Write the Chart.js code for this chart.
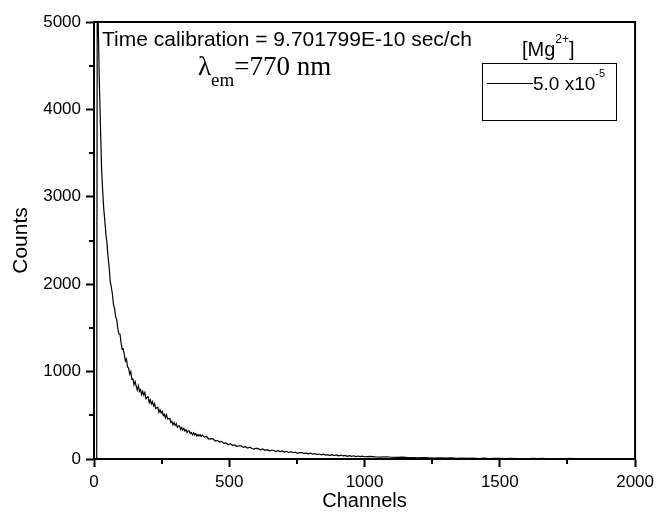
<!DOCTYPE html>
<html>
<head>
<meta charset="utf-8">
<script src="https://cdn.jsdelivr.net/npm/chart.js@4.4.0/dist/chart.umd.min.js"></script>
<style>
  html, body { margin: 0; padding: 0; background: #fff; }
  canvas { display: block; }
</style>
</head>
<body>
<canvas id="decayChart" width="659" height="516"></canvas>
<script>
// subida del pulso, canal por canal
var riseChannels = [0, 4, 8, 10, 12, 14];
var riseCounts = [2, 1, 3, 20, 5500, 5250];

// parte rapida del decaimiento: un valor cada 4 canales desde el canal 16
var earlyStart = 16, earlyStep = 4;
var earlyCounts = [
    4910, 4280, 3795, 3320, 3075, 2865, 2725, 2570, 2470, 2310,
    2195, 2030, 1965, 1890, 1765, 1720, 1625, 1595, 1495, 1430,
    1430, 1330, 1255, 1260, 1195, 1120, 1145, 1055, 1040, 970,
    1000, 910, 915, 850, 885, 835, 788, 838, 773, 794,
    736, 775, 730, 762, 689, 705, 713, 645, 677, 629,
    656, 607, 634, 576, 588, 591, 535, 563, 526, 544,
    498, 512, 471, 505, 459, 461, 465, 417, 430, 390,
    417, 384, 406, 363, 376, 379, 337, 360, 333, 352,
    319, 335, 304, 321, 321, 292, 303, 278, 300, 276,
    290, 265, 280, 263, 280, 259
];

// cola media: un valor cada 8 canales desde 400
var midStart = 400, midStep = 8;
var midCounts = [
    273, 250, 257, 229, 234, 231, 206, 212, 194, 202,
    178, 184, 163, 174, 157, 162, 143, 151, 151, 133,
    141, 124, 135, 120, 113, 123, 116, 104, 114, 99,
    107, 94, 100, 100, 86, 95, 84, 92, 79, 86,
    75, 84, 72, 79, 66, 74, 74, 62, 69, 59,
    66, 55, 62, 50, 57, 48, 55, 44, 50, 40,
    49, 39, 46, 37, 44, 35, 41, 31, 39, 31,
    37, 28, 34, 27, 33
];

// cola larga: un valor cada 20 canales desde 1000
var tailStart = 1000, tailStep = 20;
var tailCounts = [
    26, 31, 24, 21, 26, 20, 18, 22, 15, 17,
    12, 16, 14, 10, 13, 9, 12, 8, 11, 7,
    9, 6, 9, 5, 8, 7, 4, 8, 5, 6,
    3, 7, 4, 6, 2, 5, 4, 2, 6, 3,
    4, 2, 5, 3, 1, 4, 3, 1, 4, 2,
    3
];

var xMinorTicks = [250, 750, 1250, 1750];
var yMinorTicks = [500, 1500, 2500, 3500, 4500];

var sans = "'Liberation Sans', Arial, sans-serif";
var serif = "'Liberation Serif', 'Times New Roman', serif";

var puntos = [];
riseChannels.forEach(function (c, i) { puntos.push({x: c, y: riseCounts[i]}); });
earlyCounts.forEach(function (v, i) { puntos.push({x: earlyStart + i * earlyStep, y: v}); });
midCounts.forEach(function (v, i) { puntos.push({x: midStart + i * midStep, y: v}); });
tailCounts.forEach(function (v, i) { puntos.push({x: tailStart + i * tailStep, y: v}); });

// escribe trozos de texto seguidos (normal / superindice / subindice)
function textoPartes(ctx, x, partes) {
    partes.forEach(function (p) {
        ctx.font = p.font;
        ctx.fillText(p.t, x, p.y);
        x += ctx.measureText(p.t).width;
    });
    return x;
}

var decoraciones = {
    id: 'decoraciones',
    afterDraw: function (chart) {
        var ctx = chart.ctx;
        var area = chart.chartArea;
        var xs = chart.scales.x;
        var ys = chart.scales.y;

        ctx.save();
        ctx.strokeStyle = '#000';
        ctx.fillStyle = '#000';

        // marco superior y derecho
        ctx.lineWidth = 2;
        ctx.beginPath();
        ctx.moveTo(area.left - 1, area.top);
        ctx.lineTo(area.right, area.top);
        ctx.lineTo(area.right, area.bottom + 1);
        ctx.stroke();

        // marcas menores
        ctx.beginPath();
        xMinorTicks.forEach(function (v) {
            var px = Math.round(xs.getPixelForValue(v));
            ctx.moveTo(px, area.bottom);
            ctx.lineTo(px, area.bottom + 5);
        });
        yMinorTicks.forEach(function (v) {
            var py = Math.round(ys.getPixelForValue(v));
            ctx.moveTo(area.left, py);
            ctx.lineTo(area.left - 5, py);
        });
        ctx.stroke();

        // textos
        ctx.textBaseline = 'alphabetic';
        ctx.textAlign = 'left';
        ctx.font = '21px ' + sans;
        ctx.fillText('Time calibration = 9.701799E-10 sec/ch', 102, 46);

        textoPartes(ctx, 198, [
            {t: '\u03bb', font: '27px ' + serif, y: 75},
            {t: 'em', font: '19px ' + serif, y: 86},
            {t: '=770 nm', font: '27px ' + serif, y: 75}
        ]);

        // leyenda
        textoPartes(ctx, 522, [
            {t: '[Mg', font: '20px ' + sans, y: 56},
            {t: '2+', font: '12px ' + sans, y: 43},
            {t: ']', font: '20px ' + sans, y: 56}
        ]);
        ctx.lineWidth = 1;
        ctx.strokeRect(482.5, 63.5, 134, 57);
        ctx.beginPath();
        ctx.moveTo(487, 83.5);
        ctx.lineTo(533, 83.5);
        ctx.stroke();
        textoPartes(ctx, 533, [
            {t: '5.0 x10', font: '19px ' + sans, y: 90},
            {t: '-5', font: '11px ' + sans, y: 77}
        ]);

        ctx.restore();
    }
};

function etiquetaSimple(value) {
    return String(value);
}

var ctx = document.getElementById('decayChart');
new Chart(ctx, {
    type: 'line',
    data: {
        datasets: [{
            label: '5.0 x10-5',
            data: puntos,
            borderColor: '#000',
            borderWidth: 1.2,
            pointRadius: 0,
            fill: false,
            tension: 0
        }]
    },
    options: {
        responsive: false,
        animation: false,
        layout: {
            padding: {left: 0, top: 22, right: 22, bottom: 0}
        },
        plugins: {
            legend: {display: false},
            tooltip: {enabled: false}
        },
        scales: {
            x: {
                type: 'linear',
                min: 0,
                max: 2000,
                afterFit: function (scale) { scale.height = 57; },
                ticks: {
                    stepSize: 500,
                    color: '#000',
                    padding: 5,
                    maxRotation: 0,
                    callback: etiquetaSimple,
                    font: {family: sans, size: 17}
                },
                grid: {
                    drawOnChartArea: false,
                    drawTicks: true,
                    tickLength: 8,
                    tickWidth: 2,
                    tickColor: '#000'
                },
                border: {color: '#000', width: 2},
                title: {
                    display: true,
                    text: 'Channels',
                    color: '#000',
                    padding: {top: 0, bottom: 3},
                    font: {family: sans, size: 20}
                }
            },
            y: {
                min: 0,
                max: 5000,
                afterFit: function (scale) { scale.width = 94; },
                ticks: {
                    stepSize: 1000,
                    color: '#000',
                    padding: 5,
                    callback: etiquetaSimple,
                    font: {family: sans, size: 17}
                },
                grid: {
                    drawOnChartArea: false,
                    drawTicks: true,
                    tickLength: 8,
                    tickWidth: 2,
                    tickColor: '#000'
                },
                border: {color: '#000', width: 2},
                title: {
                    display: true,
                    text: 'Counts',
                    color: '#000',
                    padding: {top: 9, bottom: 0},
                    font: {family: sans, size: 21}
                }
            }
        }
    },
    plugins: [decoraciones]
});
</script>
</body>
</html>
